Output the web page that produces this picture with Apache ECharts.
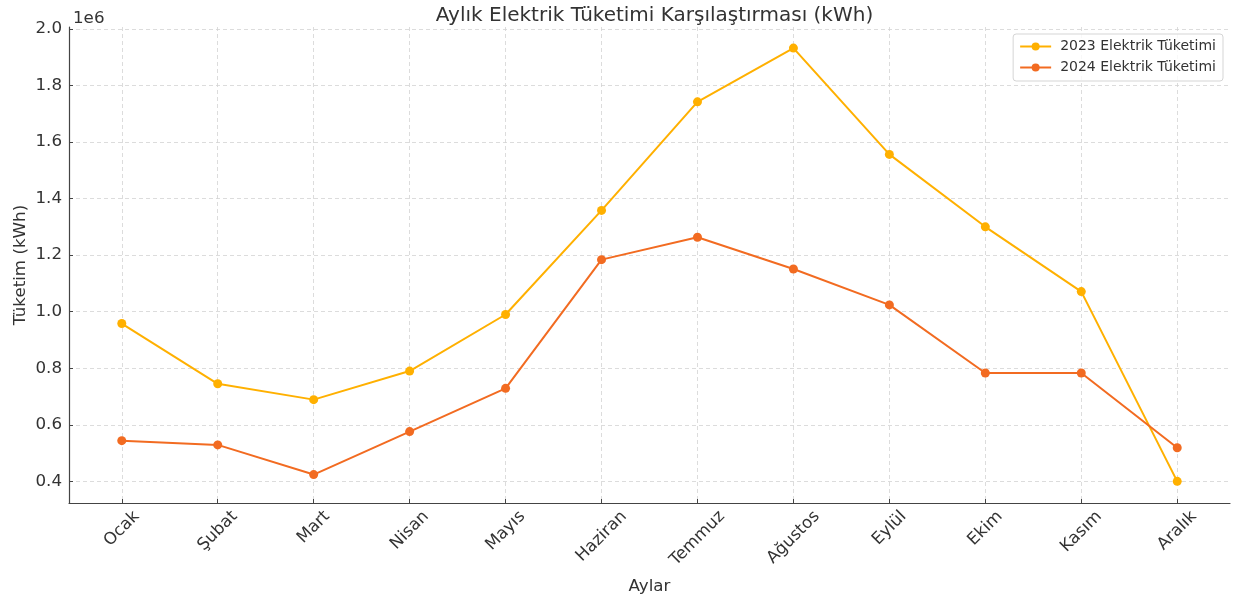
<!DOCTYPE html>
<html>
<head>
<meta charset="utf-8">
<script src="https://cdn.jsdelivr.net/npm/echarts@6/dist/echarts.min.js"></script>
<style>
  html, body { margin: 0; padding: 0; background: #fff; }
  #chart { width: 1235px; height: 602px; }
</style>
</head>
<body>
<div id="chart"></div>
<script>
const months = ['Ocak', 'Şubat', 'Mart', 'Nisan', 'Mayıs', 'Haziran', 'Temmuz', 'Ağustos', 'Eylül', 'Ekim', 'Kasım', 'Aralık'];
const usage2023 = [958000, 745000, 689000, 790000, 990000, 1358000, 1742000, 1932000, 1556000, 1300000, 1071000, 400000];
const usage2024 = [544000, 529000, 424000, 576000, 729000, 1184000, 1263000, 1151000, 1024000, 783000, 783000, 519000];
const yTicks = [0.4, 0.6, 0.8, 1.0, 1.2, 1.4, 1.6, 1.8, 2.0];

const font = '"DejaVu Sans", sans-serif';
const fs = 16.7;
const textColor = '#333';

// matplotlib centres rotated tick labels under the tick, so longer words sit lower
const ctx = document.createElement('canvas').getContext('2d');
ctx.font = fs + 'px "DejaVu Sans"';
const rich = {};
months.forEach((m, i) => {
  const w = ctx.measureText(m).width;
  const e = (w + fs * 1.16) / (2 * Math.SQRT2);
  const p = e * Math.SQRT2;
  rich['m' + i] = { fontSize: fs, fontFamily: font, color: textColor, padding: [p, p, 0, 0] };
});

const chart = echarts.init(document.getElementById('chart'), null, { renderer: 'canvas' });

chart.setOption({
  animation: false,
  backgroundColor: '#fff',
  title: [{
    text: 'Aylık Elektrik Tüketimi Karşılaştırması (kWh)',
    left: 649.5,
    textAlign: 'center',
    top: 1,
    textStyle: { fontSize: 20, fontWeight: 'normal', fontFamily: font, color: textColor }
  }, {
    text: '1e6',
    left: 68,
    top: 5,
    textStyle: { fontSize: fs, fontWeight: 'normal', fontFamily: font, color: textColor }
  }],
  legend: {
    orient: 'vertical',
    right: 12,
    top: 34,
    padding: [4, 7, 5, 6],
    itemWidth: 31,
    itemHeight: 10,
    itemGap: 4,
    borderColor: '#d5d5d5',
    borderWidth: 1,
    borderRadius: 3,
    backgroundColor: 'rgba(255,255,255,0.8)',
    selectedMode: false,
    textStyle: { fontSize: 14, fontFamily: font, color: textColor, lineHeight: 17, padding: [0, 0, 0, 4] }
  },
  grid: {
    left: 69,
    top: 27,
    width: 1161,
    height: 476,
    outerBoundsMode: 'none'
  },
  xAxis: {
    type: 'value',
    min: -0.55,
    max: 11.55,
    name: 'Aylar',
    nameLocation: 'middle',
    nameGap: 75,
    nameTextStyle: { fontSize: fs, fontFamily: font, color: textColor },
    axisLine: { show: true, onZero: false, lineStyle: { color: '#444', width: 1.2 } },
    axisTick: {
      show: true,
      inside: true,
      length: 4,
      customValues: months.map((m, i) => i),
      lineStyle: { color: '#444', width: 1 }
    },
    axisLabel: {
      customValues: months.map((m, i) => i),
      rotate: 45,
      align: 'center',
      verticalAlign: 'middle',
      margin: 4,
      formatter: v => '{m' + v + '|' + months[v] + '}',
      rich: rich
    },
    splitLine: {
      show: true,
      lineStyle: { color: '#d3d3d3', width: 0.8, type: [4, 3] }
    }
  },
  yAxis: {
    type: 'value',
    min: 323500,
    max: 2006500,
    name: 'Tüketim (kWh)',
    nameLocation: 'middle',
    nameGap: 40,
    nameMoveOverlap: false,
    nameTextStyle: { fontSize: fs, fontFamily: font, color: textColor },
    axisLine: { show: true, onZero: false, lineStyle: { color: '#444', width: 1.2 } },
    axisTick: {
      show: true,
      inside: true,
      length: 4,
      customValues: yTicks.map(t => Math.round(t * 1e6)),
      lineStyle: { color: '#444', width: 1 }
    },
    axisLabel: {
      customValues: yTicks.map(t => Math.round(t * 1e6)),
      formatter: v => (v / 1e6).toFixed(1),
      fontSize: fs,
      fontFamily: font,
      color: textColor,
      margin: 7
    },
    splitLine: {
      show: true,
      lineStyle: { color: '#d3d3d3', width: 0.8, type: [4, 3] }
    }
  },
  series: [{
    name: '2023 Elektrik Tüketimi',
    type: 'line',
    data: usage2023.map((v, i) => [i, v]),
    symbol: 'circle',
    symbolSize: 9,
    itemStyle: { color: '#ffb000' },
    lineStyle: { color: '#ffb000', width: 2 }
  }, {
    name: '2024 Elektrik Tüketimi',
    type: 'line',
    data: usage2024.map((v, i) => [i, v]),
    symbol: 'circle',
    symbolSize: 9,
    itemStyle: { color: '#f26b21' },
    lineStyle: { color: '#f26b21', width: 2 }
  }]
});
</script>
</body>
</html>
